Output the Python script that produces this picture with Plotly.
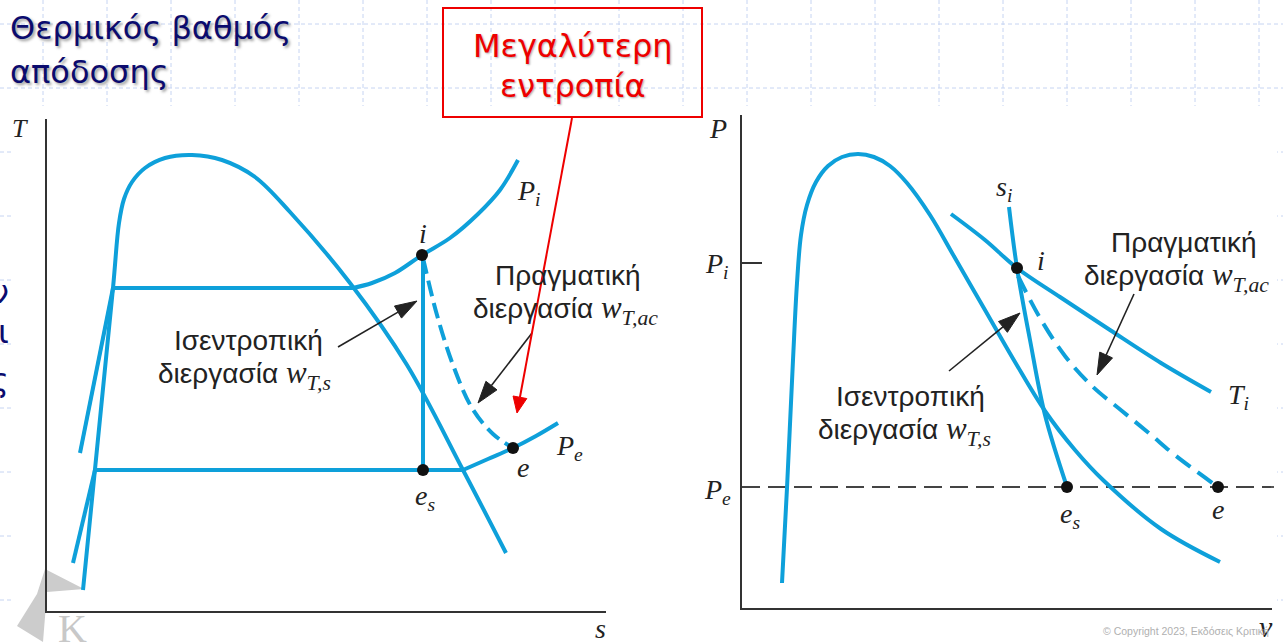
import numpy as np
import plotly.graph_objects as go

W, H = 1283, 642
BLUE = "#0ea0da"
AXIS = "#333333"
NAVY = "#0b0b6e"

# ---------------- T-s diagram (left) ----------------
ts_axis_x = [46, 46, 606]
ts_axis_y = [119, 612, 612]

ts_dome_x = [83, 113, 119, 124, 132, 145, 165, 192, 222, 255, 290, 350, 407, 463, 506]
ts_dome_y = [590, 288, 223, 199, 182, 168, 158, 155, 160, 177, 212, 283, 365, 470, 553]

ts_pi_liquid_x = [80, 113]
ts_pi_liquid_y = [453, 288]
ts_pe_liquid_x = [73, 95]
ts_pe_liquid_y = [563, 470]

ts_pi_flat_x = [113, 353]
ts_pi_flat_y = [288, 288]
ts_pi_vapor_x = [353, 372, 395, 422, 450, 478, 500, 518]
ts_pi_vapor_y = [288, 283, 273, 255, 238, 214, 190, 160]

ts_pe_flat_x = [95, 463]
ts_pe_flat_y = [470, 470]
ts_pe_vapor_x = [463, 488, 513, 536, 558]
ts_pe_vapor_y = [470, 459, 448, 436, 423]

ts_isentropic_x = [423, 423]
ts_isentropic_y = [256, 470]
ts_actual_x = [423, 437, 453, 472, 493, 513]
ts_actual_y = [258, 315, 365, 408, 434, 448]

ts_states_x = [422, 423, 513]
ts_states_y = [255, 470, 448]

# ---------------- P-v diagram (right) ----------------
pv_axis_x = [741, 741, 1272]
pv_axis_y = [115, 609, 609]
pv_pi_tick_x = [741, 762]
pv_pi_tick_y = [263, 263]

pv_dome_x = [782, 787, 793, 797, 801, 807, 816, 828, 842, 858, 874, 890, 907, 930, 955, 985,
             1015, 1045, 1075, 1103, 1161, 1220]
pv_dome_y = [583, 488, 360, 283, 235, 205, 182, 166, 157, 154, 157, 166, 183, 215, 258, 310,
             362, 411, 450, 480, 529, 562]

pv_si_x = [1009, 1017, 1030, 1045, 1067]
pv_si_y = [207, 268, 340, 415, 487]
pv_ti_x = [951, 985, 1017, 1060, 1110, 1161, 1211]
pv_ti_y = [214, 240, 268, 297, 330, 363, 392]
pv_actual_x = [1018, 1040, 1065, 1092, 1122, 1150, 1176, 1218]
pv_actual_y = [276, 318, 356, 386, 411, 434, 456, 487]
pv_pe_x = [742, 1274]
pv_pe_y = [487, 487]

pv_states_x = [1017, 1067, 1218]
pv_states_y = [268, 487, 487]

# slide background grid
grid_x = list(range(43, W, 64))
grid_y = list(range(24, H, 64))

fig = go.Figure()


def curve(x, y, color=BLUE, width=4, dash="solid", shape="spline"):
    fig.add_trace(go.Scatter(x=x, y=y, mode="lines",
                             line=dict(color=color, width=width, dash=dash, shape=shape, smoothing=1.0),
                             hoverinfo="skip"))


def arrow(tail, tip, color, width, head_len, head_w):
    tail = np.asarray(tail, float)
    tip = np.asarray(tip, float)
    d = tip - tail
    d /= np.hypot(*d)
    n = np.array([-d[1], d[0]])
    base = tip - d * head_len
    fig.add_trace(go.Scatter(x=[tail[0], base[0]], y=[tail[1], base[1]], mode="lines",
                             line=dict(color=color, width=width), hoverinfo="skip"))
    tri = [tip, base + n * head_w / 2, base - n * head_w / 2, tip]
    fig.add_trace(go.Scatter(x=[p[0] for p in tri], y=[p[1] for p in tri], mode="lines",
                             fill="toself", fillcolor=color, line=dict(color=color, width=1),
                             hoverinfo="skip"))


# axes
curve(ts_axis_x, ts_axis_y, AXIS, 2, shape="linear")
curve(pv_axis_x, pv_axis_y, AXIS, 2, shape="linear")
curve(pv_pi_tick_x, pv_pi_tick_y, AXIS, 2, shape="linear")

# T-s curves
curve(ts_dome_x, ts_dome_y)
curve(ts_pi_liquid_x, ts_pi_liquid_y, shape="linear")
curve(ts_pe_liquid_x, ts_pe_liquid_y, shape="linear")
curve(ts_pi_flat_x, ts_pi_flat_y, shape="linear")
curve(ts_pi_vapor_x, ts_pi_vapor_y)
curve(ts_pe_flat_x, ts_pe_flat_y, shape="linear")
curve(ts_pe_vapor_x, ts_pe_vapor_y)
curve(ts_isentropic_x, ts_isentropic_y, shape="linear")
curve(ts_actual_x, ts_actual_y, dash="16px,7px")

# P-v curves
curve(pv_pe_x, pv_pe_y, "#444444", 1.8, dash="18px,8px", shape="linear")
curve(pv_dome_x, pv_dome_y)
curve(pv_si_x, pv_si_y)
curve(pv_ti_x, pv_ti_y)
curve(pv_actual_x, pv_actual_y, dash="18px,9px")

# state points
fig.add_trace(go.Scatter(x=ts_states_x + pv_states_x, y=ts_states_y + pv_states_y, mode="markers",
                         marker=dict(color="#111111", size=12), hoverinfo="skip"))

# pointer arrows
arrow((338, 347), (417, 301), "#222222", 1.6, 22, 14)
arrow((532, 333), (478, 403), "#222222", 1.6, 22, 14)
arrow((949, 371), (1020, 313), "#222222", 1.6, 22, 14)
arrow((1134, 294), (1097, 375), "#222222", 1.6, 22, 14)
arrow((572, 118), (517, 413), "#ee0000", 2, 16, 14)

# ---------------- shapes ----------------
shapes = []
for gx in grid_x:
    shapes.append(dict(type="line", x0=gx, x1=gx, y0=0, y1=H, layer="below",
                       line=dict(color="#c6d4f2", width=1, dash="4px,3px")))
for gy in grid_y:
    shapes.append(dict(type="line", x0=0, x1=W, y0=gy, y1=gy, layer="below",
                       line=dict(color="#c6d4f2", width=1, dash="4px,3px")))
shapes.append(dict(type="rect", x0=11, x1=1277, y0=106, y1=H + 2, layer="below",
                   fillcolor="white", line=dict(width=0)))
# publisher mark
shapes.append(dict(type="path", path="M45,569 L84,589 L47,592 L43,642 L17,626 L37,594 Z",
                   fillcolor="#cccccc", line=dict(width=0), layer="below"))
# callout box
shapes.append(dict(type="rect", x0=443, x1=702, y0=8, y1=117,
                   line=dict(color="#ee0000", width=2), fillcolor="rgba(0,0,0,0)"))

SERIF = "Liberation Serif"
SANS = "Liberation Sans"
ann = []


def text(x, y, t, size, color="#222222", family=SANS, xanchor="center", shadow=None):
    f = dict(size=size, color=color, family=family)
    if shadow:
        f["shadow"] = shadow
    ann.append(dict(x=x, y=y, text=t, showarrow=False, xanchor=xanchor, yanchor="middle",
                    font=f))


def wsub(sub):
    return (f"<span style='font-family:{SERIF};font-size:31px'><i>w</i>"
            f"<sub><i>{sub}</i></sub></span>")


# slide title and callout
text(8, 28, "Θερμικός βαθμός", 32, NAVY, "DejaVu Sans", "left", "2px 2px 3px #9a9a9a")
text(8, 72, "απόδοσης", 32, NAVY, "DejaVu Sans", "left", "2px 2px 3px #9a9a9a")
text(573, 46, "Μεγαλύτερη", 32, "#ee0000", "DejaVu Sans", "center", "1px 1px 2px #aaaaaa")
text(573, 86, "εντροπία", 32, "#ee0000", "DejaVu Sans", "center", "1px 1px 2px #aaaaaa")
for yy, ch in [(292, "ν"), (332, "ι"), (380, "ς")]:
    text(11, yy, ch, 32, NAVY, "DejaVu Sans", "right")

# T-s labels
text(20, 128, "<i>T</i>", 26, family=SERIF)
text(600, 628, "<i>s</i>", 28, family=SERIF)
text(529, 192, "<i>P</i><sub><i>i</i></sub>", 28, family=SERIF)
text(423, 233, "<i>i</i>", 28, family=SERIF)
text(425, 497, "<i>e</i><sub><i>s</i></sub>", 28, family=SERIF)
text(523, 467, "<i>e</i>", 28, family=SERIF)
text(569, 447, "<i>P</i><sub><i>e</i></sub>", 28, family=SERIF)
text(493, 275, "Πραγματική", 28, xanchor="left")
text(471, 310, "διεργασία " + wsub("T,ac"), 28, xanchor="left")
text(172, 340, "Ισεντροπική", 28, xanchor="left")
text(156, 375, "διεργασία " + wsub("T,s"), 28, xanchor="left")

# P-v labels
text(718, 128, "<i>P</i>", 28, family=SERIF)
text(717, 265, "<i>P</i><sub><i>i</i></sub>", 28, family=SERIF)
text(717, 491, "<i>P</i><sub><i>e</i></sub>", 28, family=SERIF)
text(1266, 626, "<i>v</i>", 30, family=SERIF)
text(1004, 188, "<i>s</i><sub><i>i</i></sub>", 28, family=SERIF)
text(1041, 260, "<i>i</i>", 28, family=SERIF)
text(1238, 396, "<i>T</i><sub><i>i</i></sub>", 28, family=SERIF)
text(1070, 515, "<i>e</i><sub><i>s</i></sub>", 28, family=SERIF)
text(1218, 509, "<i>e</i>", 28, family=SERIF)
text(1109, 242, "Πραγματική", 28, xanchor="left")
text(1082, 277, "διεργασία " + wsub("T,ac"), 28, xanchor="left")
text(834, 396, "Ισεντροπική", 28, xanchor="left")
text(816, 431, "διεργασία " + wsub("T,s"), 28, xanchor="left")

# publisher mark and copyright
text(72, 628, "K", 40, "#c8c8c8", SERIF)
text(1186, 631, "© Copyright 2023, Εκδόσεις Κριτική", 10.5, "#b0b0b0", SANS)

fig.update_layout(
    width=W, height=H, margin=dict(l=0, r=0, t=0, b=0),
    paper_bgcolor="white", plot_bgcolor="rgba(0,0,0,0)", showlegend=False,
    xaxis=dict(range=[0, W], visible=False, fixedrange=True),
    yaxis=dict(range=[H, 0], visible=False, fixedrange=True),
    shapes=shapes, annotations=ann,
)

fig.write_html("out.html")
